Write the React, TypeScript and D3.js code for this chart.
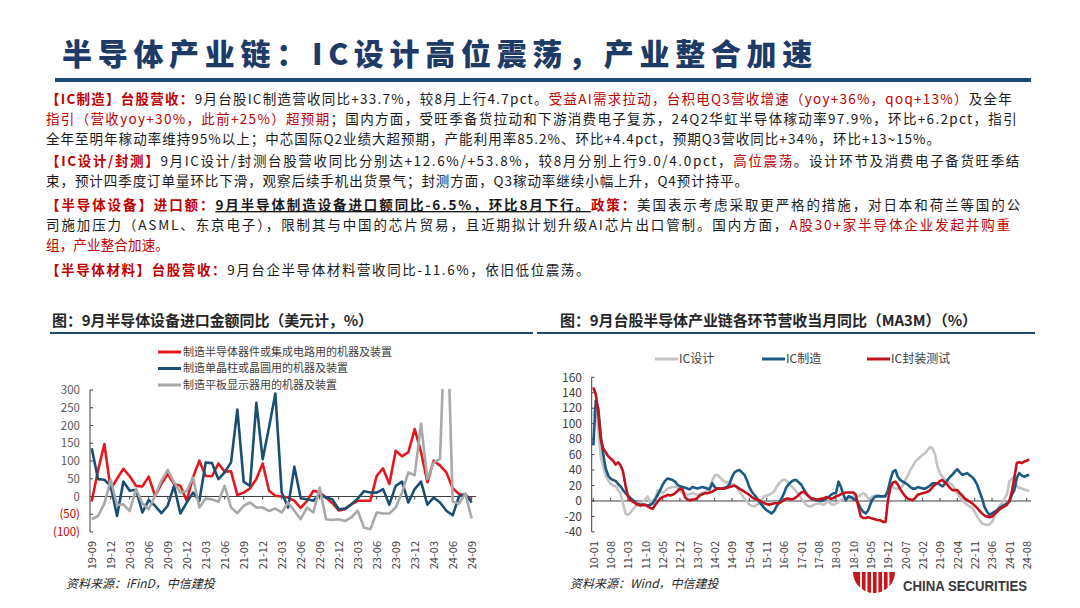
import React, { useLayoutEffect, useRef } from "react";
import * as d3 from "d3";

// ---------- left chart: 半导体设备进口金额同比 (monthly, 19-09 .. 24-09)
const equipSemi = [
  -14, 73, 148, 20,
  50, 78, 57, 30, 28, 56, 2, 35, 63, 35, 30, -12,
  54, 101, 58, 57, 93, 70, 71, 4, 11, 23, 49, 93,
  16, 2, 0, -3, -12, -32, -12, 16, 11, -3, -19, -39,
  -36, -22, -12, -12, -12, 58, 79, 35, 129, 113, 125, 190,
  125, 40, 101, 87, 68, 23, 7, 2, -9,
];
const equipWafer = [
  136, 49, 47, 30,
  -55, 42, 16, 19, -45, -10, -26, -47, -26, 30, -48, -17,
  11, -12, 96, 94, 49, 68, 96, 245, 41, 30, 264, 105,
  195, 290, 11, -31, 84, -5, -8, -12, 7, -3, -8, -36,
  -34, -22, -6, 15, 11, 11, 21, -23, 30, 42, -17, 21,
  42, -23, -3, -17, -40, -53, 0, 7, -17,
];
const equipPanel = [
  -64, -55, -20, 47,
  -24, -22, -41, 21, -19, -36, 2, 44, 75, 40, 11, 15,
  54, -31, -6, -8, -15, 30, -31, -47, -26, -17, -31, -31,
  -41, -34, -45, -17, -40, -64, -31, -45, 25, -64, -66, -64,
  -69, -59, -40, -88, -92, -45, -48, -48, -31, 11, 68, 60,
  205, 49, 96, 106, 600, -15, -20, 8, -62,
];
const equipTicks = ["19-09", "19-12", "20-03", "20-06", "20-09", "20-12", "21-03", "21-06", "21-09", "21-12", "22-03", "22-06", "22-09", "22-12", "23-03", "23-06", "23-09", "23-12", "24-03", "24-06", "24-09"];
const equipYTicks = [300, 250, 200, 150, 100, 50, 0, -50, -100];

// ---------- right chart: 台股半导体各环节营收当月同比 MA3M (monthly, 10-01 .. 24-09)
const twDesign = [
  110, 122, 92, 57, 44, 33, 27, 22, 20, 19, 14, 10,
  -3, -16, -18, -15, -11, -7, -4, -3, -1, 2, 6, -3,
  1, 3, 14, 12, 10, 13, 16, 17, 18, 18, 18, 14,
  10, 9, 8, 9, 10, 9, 8, 9, 10, 11, 14, 18,
  26, 33, 34, 31, 28, 25, 24, 23, 22, 21, 18, 12,
  8, 3, 0, -5, -6, -7, -5, -3, 1, 6, 7, 8,
  10, 12, 18, 23, 26, 28, 26, 23, 19, 16, 12, 8,
  3, -1, -5, -7, -7, -5, -4, -3, -4, -5, -2, -1,
  -4, -5, -3, -1, 1, 3, 2, 1, 3, 6, 6, 6,
  8, 10, 8, 3, 4, 6, 7, 8, 6, 6, 8, 12,
  21, 18, 16, 16, 16, 20, 27, 33, 40, 45, 51, 54,
  57, 60, 62, 66, 70, 68, 60, 44, 36, 31, 28, 25,
  23, 21, 15, 10, 5, 1, -2, -5, -7, -9, -14, -20,
  -25, -29, -30, -31, -30, -27, -20, -12, -7, -3, 3, 8,
  25, 29, 31, 19, 17, 16, 15, 14, 13,
];
const twFab = [
  72, 130, 120, 85, 60, 42, 33, 29, 27, 26, 22, 19,
  14, 10, 7, 4, 1, -2, -4, -5, -5, -5, -6, -5,
  -3, 2, 8, 14, 21, 26, 29, 28, 27, 25, 21, 19,
  18, 17, 16, 15, 18, 17, 16, 17, 18, 17, 16, 15,
  23, 18, 16, 16, 16, 17, 18, 22, 31, 37, 39, 40,
  37, 34, 27, 18, 12, 8, 4, -1, -5, -9, -12, -14,
  -16, -13, -7, -2, 3, 10, 18, 22, 25, 27, 27, 24,
  21, 15, 10, 6, 3, 2, 1, 1, 0, 1, 3, 5,
  8, 10, 10, 25, 18, 8, 1, 6, 5, 3, 1, -3,
  -10, -14, -16, -12, -3, 3, 6, 6, 6, 6, 6, 14,
  28, 38, 40, 31, 27, 25, 23, 21, 18, 16, 16, 18,
  17, 16, 16, 18, 20, 23, 23, 23, 21, 19, 22, 27,
  31, 34, 38, 41, 37, 34, 35, 36, 33, 31, 27, 21,
  12, 3, -8, -14, -18, -16, -14, -12, -9, -7, -5, -3,
  -1, 8, 14, 30, 36, 33, 31, 33, 34,
];
const twPackage = [
  147, 138, 115, 80, 68, 63, 58, 55, 52, 47, 50, 46,
  38, 20, 6, 1, -1, -3, -5, -6, -5, -5, -7, -9,
  -10, -5, -1, 3, 5, 6, 8, 7, 8, 10, 13, 16,
  15, 5, 2, 1, 2, 2, 4, 7, 9, 10, 10, 11,
  12, 14, 16, 16, 16, 16, 17, 18, 19, 20, 18, 16,
  14, 12, 10, 8, 5, 3, 2, 1, -1, -3, -4, -5,
  -4, -3, -3, -3, -1, 1, 3, 3, 2, 3, 5, 8,
  11, 12, 9, 6, 3, 3, 2, 2, 3, 3, 5, 4,
  3, 4, 6, 7, 9, 10, 11, 11, 11, 11, 8, -7,
  -20, -22, -22, -21, -22, -23, -24, -25, -25, -27, -27, 1,
  18, 24, 25, 21, 15, 10, 6, 3, 2, 1, 4, 8,
  9, 10, 11, 12, 14, 18, 21, 23, 26, 27, 24, 21,
  17, 14, 14, 14, 10, 7, 3, 1, -1, -3, -6, -9,
  -13, -16, -19, -20, -21, -20, -17, -14, -11, -9, -7, -5,
  0, 12, 30, 49, 50, 49, 51, 52, 54,
];
const twTicks = ["10-01", "10-08", "11-03", "11-10", "12-05", "12-12", "13-07", "14-02", "14-09", "15-04", "15-11", "16-06", "17-01", "17-08", "18-03", "18-10", "19-05", "19-12", "20-07", "21-02", "21-09", "22-04", "22-11", "23-06", "24-01", "24-08"];
const twYTicks = [160, 140, 120, 100, 80, 60, 40, 20, 0, -20, -40];

// ---------- text block
type Seg = [string, string];
const titleText: Seg[] = [["半导体产业链：IC设计高位震荡，产业整合加速", "n"]];
const bodyLines: { y: number; w: number; segs: Seg[] }[] = [
  { y: 104, w: 967, segs: [["【IC制造】台股营收：", "rb"], ["9月台股IC制造营收同比+33.7%，较8月上行4.7pct。", "n"], ["受益AI需求拉动，台积电Q3营收增速（yoy+36%，qoq+13%）", "r"], ["及全年", "n"]] },
  { y: 124, w: 972, segs: [["指引（营收yoy+30%，此前+25%）超预期", "r"], ["；国内方面，受旺季备货拉动和下游消费电子复苏，24Q2华虹半导体稼动率97.9%，环比+6.2pct，指引", "n"]] },
  { y: 144, w: 895, segs: [["全年至明年稼动率维持95%以上；中芯国际Q2业绩大超预期，产能利用率85.2%、环比+4.4pct，预期Q3营收同比+34%，环比+13~15%。", "n"]] },
  { y: 166, w: 975, segs: [["【IC设计/封测】", "rb"], ["9月IC设计/封测台股营收同比分别达+12.6%/+53.8%，较8月分别上行9.0/4.0pct，", "n"], ["高位震荡", "r"], ["。设计环节及消费电子备货旺季结", "n"]] },
  { y: 186, w: 703, segs: [["束，预计四季度订单量环比下滑，观察后续手机出货景气；封测方面，Q3稼动率继续小幅上升，Q4预计持平。", "n"]] },
  { y: 210, w: 976, segs: [["【半导体设备】进口额：", "rb"], ["9月半导体制造设备进口额同比-6.5%，环比8月下行。", "bu"], ["政策：", "rb"], ["美国表示考虑采取更严格的措施，对日本和荷兰等国的公", "n"]] },
  { y: 230, w: 966, segs: [["司施加压力（ASML、东京电子），限制其与中国的芯片贸易，且近期拟计划升级AI芯片出口管制。国内方面，", "n"], ["A股30+家半导体企业发起并购重", "r"]] },
  { y: 250, w: 123, segs: [["组，产业整合加速。", "r"]] },
  { y: 275, w: 545, segs: [["【半导体材料】台股营收：", "rb"], ["9月台企半导体材料营收同比-11.6%，依旧低位震荡。", "n"]] },
];
const leftTitle: Seg[] = [["图：9月半导体设备进口金额同比（美元计，%）", "n"]];
const rightTitle: Seg[] = [["图：9月台股半导体产业链各环节营收当月同比（MA3M）（%）", "n"]];

const RED = "#c00000";
const FONT = "'Noto Sans CJK SC', 'Noto Sans', sans-serif";
const SEG_STYLE: Record<string, any> = {
  n: {},
  r: { fill: RED },
  rb: { fill: RED, fontWeight: 700 },
  bu: { fontWeight: 700, textDecoration: "underline" },
};

function FitText(props: { x: number; y: number; width: number; size: number; weight?: number; fill?: string; segs: Seg[] }) {
  const { x, y, width, size, weight = 400, fill = "#1a1a1a", segs } = props;
  const ref = useRef<SVGTextElement>(null);
  useLayoutEffect(() => {
    const el = ref.current;
    if (!el) return;
    const fit = () => {
      el.setAttribute("letter-spacing", "0");
      const natural = el.getComputedTextLength();
      const n = segs.reduce((a, s) => a + Array.from(s[0]).length, 0);
      el.setAttribute("letter-spacing", ((width - natural) / n).toFixed(3));
    };
    fit();
    (document as any).fonts?.ready.then(fit);
  }, [width, segs]);
  return (
    <text ref={ref} x={x} y={y} fontSize={size} fontFamily={FONT} fontWeight={weight} fill={fill}>
      {segs.map(([t, k], i) => (
        <tspan key={i} {...SEG_STYLE[k]}>{t}</tspan>
      ))}
    </text>
  );
}

const App: React.FC = () => {
  // left chart scales
  const xL = d3.scaleLinear().domain([0, equipSemi.length - 1]).range([91.7, 471.7]);
  const yL = d3.scaleLinear().domain([-100, 300]).range([532, 390]);
  const lineL = d3.line<number>().x((_, i) => xL(i)).y((d) => yL(d));
  const leftSeries = [
    { name: "制造半导体器件或集成电路用的机器及装置", color: "#e3191f", values: equipSemi },
    { name: "制造单晶柱或晶圆用的机器及装置", color: "#1b4f72", values: equipWafer },
    { name: "制造平板显示器用的机器及装置", color: "#a9a9a9", values: equipPanel },
  ];

  // right chart scales
  const xR = d3.scaleLinear().domain([0, 175]).range([593.3, 1026.7]);
  const yR = d3.scaleLinear().domain([-40, 160]).range([531.9, 377.3]);
  const lineR = d3.line<number>().x((_, i) => xR(i)).y((d) => yR(d));
  const rightSeries = [
    { name: "IC设计", color: "#c3c3c3", values: twDesign, lx: 655 },
    { name: "IC制造", color: "#1a5a85", values: twFab, lx: 762 },
    { name: "IC封装测试", color: "#c3121e", values: twPackage, lx: 867 },
  ];

  const axisColor = "#404040";

  return (
    <div style={{ position: "absolute", left: 0, top: 0, width: 1080, height: 608, background: "#fff" }}>
      <svg width={1080} height={608} style={{ display: "block" }}>
        <defs>
          <clipPath id="clipL">
            <rect x={88} y={389} width={392} height={147} />
          </clipPath>
          <clipPath id="clipR">
            <rect x={590} y={368} width={445} height={168} />
          </clipPath>
        </defs>

        {/* title */}
        <FitText x={62} y={65} width={756} size={30} weight={900} fill="#1e3a66" segs={titleText} />
        <rect x={55} y={78} width={976} height={4} fill="#1d4a74" />

        {/* body text */}
        {bodyLines.map((l, i) => (
          <FitText key={i} x={46} y={l.y} width={l.w} size={13.5} segs={l.segs} />
        ))}

        {/* chart titles */}
        <FitText x={52} y={326} width={321} size={15} weight={700} fill="#262626" segs={leftTitle} />
        <FitText x={560} y={326} width={417} size={15} weight={700} fill="#262626" segs={rightTitle} />
        <rect x={50} y={332} width={483} height={2} fill="#1d4a74" />
        <rect x={537} y={332} width={498} height={2} fill="#1d4a74" />

        {/* ---------- left chart ---------- */}
        <g fontFamily={FONT}>
          {leftSeries.map((s, i) => (
            <g key={s.name}>
              <line x1={158} x2={181} y1={352 + i * 16.5} y2={352 + i * 16.5} stroke={s.color} strokeWidth={3} />
              <text x={183} y={352 + i * 16.5} dy="0.35em" fontSize={11} fill="#404040">{s.name}</text>
            </g>
          ))}
          <line x1={90} x2={90} y1={390} y2={532} stroke={axisColor} />
          {equipYTicks.map((t) => (
            <g key={t}>
              <line x1={90} x2={93} y1={yL(t)} y2={yL(t)} stroke={axisColor} />
              <text x={80} y={yL(t)} dy="0.35em" textAnchor="end" fontSize={11.5} fill={t < 0 ? RED : "#595959"}>
                {t < 0 ? `(${-t})` : t}
              </text>
            </g>
          ))}
          <line x1={90} x2={476} y1={yL(0)} y2={yL(0)} stroke={axisColor} />
          {equipTicks.map((t, k) => (
            <g key={t}>
              <line x1={xL(k * 3)} x2={xL(k * 3)} y1={yL(0)} y2={yL(0) + 3} stroke={axisColor} />
              <text transform={`translate(${xL(k * 3) + 4},541) rotate(-90)`} textAnchor="end" fontSize={11} fill="#404040">
                {t}
              </text>
            </g>
          ))}
          <g clipPath="url(#clipL)">
            {leftSeries.map((s) => (
              <path key={s.name} d={lineL(s.values) || ""} fill="none" stroke={s.color} strokeWidth={2.6} strokeLinejoin="round" />
            ))}
          </g>
          <text x={66} y={588} fontSize={12} fontStyle="italic" fill="#262626">资料来源：iFinD，中信建投</text>
        </g>

        {/* ---------- right chart ---------- */}
        <g fontFamily={FONT}>
          {rightSeries.map((s) => (
            <g key={s.name}>
              <line x1={s.lx} x2={s.lx + 23} y1={359} y2={359} stroke={s.color} strokeWidth={3} />
              <text x={s.lx + 24} y={359} dy="0.35em" fontSize={12} fill="#404040">{s.name}</text>
            </g>
          ))}
          <line x1={591.7} x2={591.7} y1={yR(160)} y2={yR(-40)} stroke={axisColor} />
          {twYTicks.map((t) => (
            <g key={t}>
              <line x1={591.7} x2={594.5} y1={yR(t)} y2={yR(t)} stroke={axisColor} />
              <text x={582} y={yR(t)} dy="0.35em" textAnchor="end" fontSize={12} fill="#404040">{t}</text>
            </g>
          ))}
          <line x1={591.7} x2={1031} y1={yR(0)} y2={yR(0)} stroke={axisColor} />
          {twTicks.map((t, k) => (
            <g key={t}>
              <line x1={xR(k * 7)} x2={xR(k * 7)} y1={yR(0)} y2={yR(0) - 3} stroke={axisColor} />
              <text transform={`translate(${xR(k * 7) + 4.2},541) rotate(-90)`} textAnchor="end" fontSize={11} fill="#404040">
                {t}
              </text>
            </g>
          ))}
          <g clipPath="url(#clipR)">
            {rightSeries.map((s) => (
              <path key={s.name} d={lineR(s.values) || ""} fill="none" stroke={s.color} strokeWidth={2.6} strokeLinejoin="round" />
            ))}
          </g>
          <text x={570} y={588} fontSize={12} fontStyle="italic" fill="#262626">资料来源：Wind，中信建投</text>
        </g>

        {/* logo */}
        <g>
          <path d="M853,572 A21,21 0 0 0 895,572 Z" fill="#c8161d" />
          {[861, 866.5, 872, 877.5, 883, 888.5].map((x) => (
            <line key={x} x1={x} x2={x} y1={572} y2={594} stroke="#fff" strokeWidth={1.8} />
          ))}
          <text x={903} y={591} fontSize={15} fontWeight={700} fontFamily="'Liberation Sans', Arial, sans-serif" fill="#3a3a3a" textLength={124} lengthAdjust="spacingAndGlyphs">
            CHINA SECURITIES
          </text>
        </g>
      </svg>
    </div>
  );
};

export default App;
